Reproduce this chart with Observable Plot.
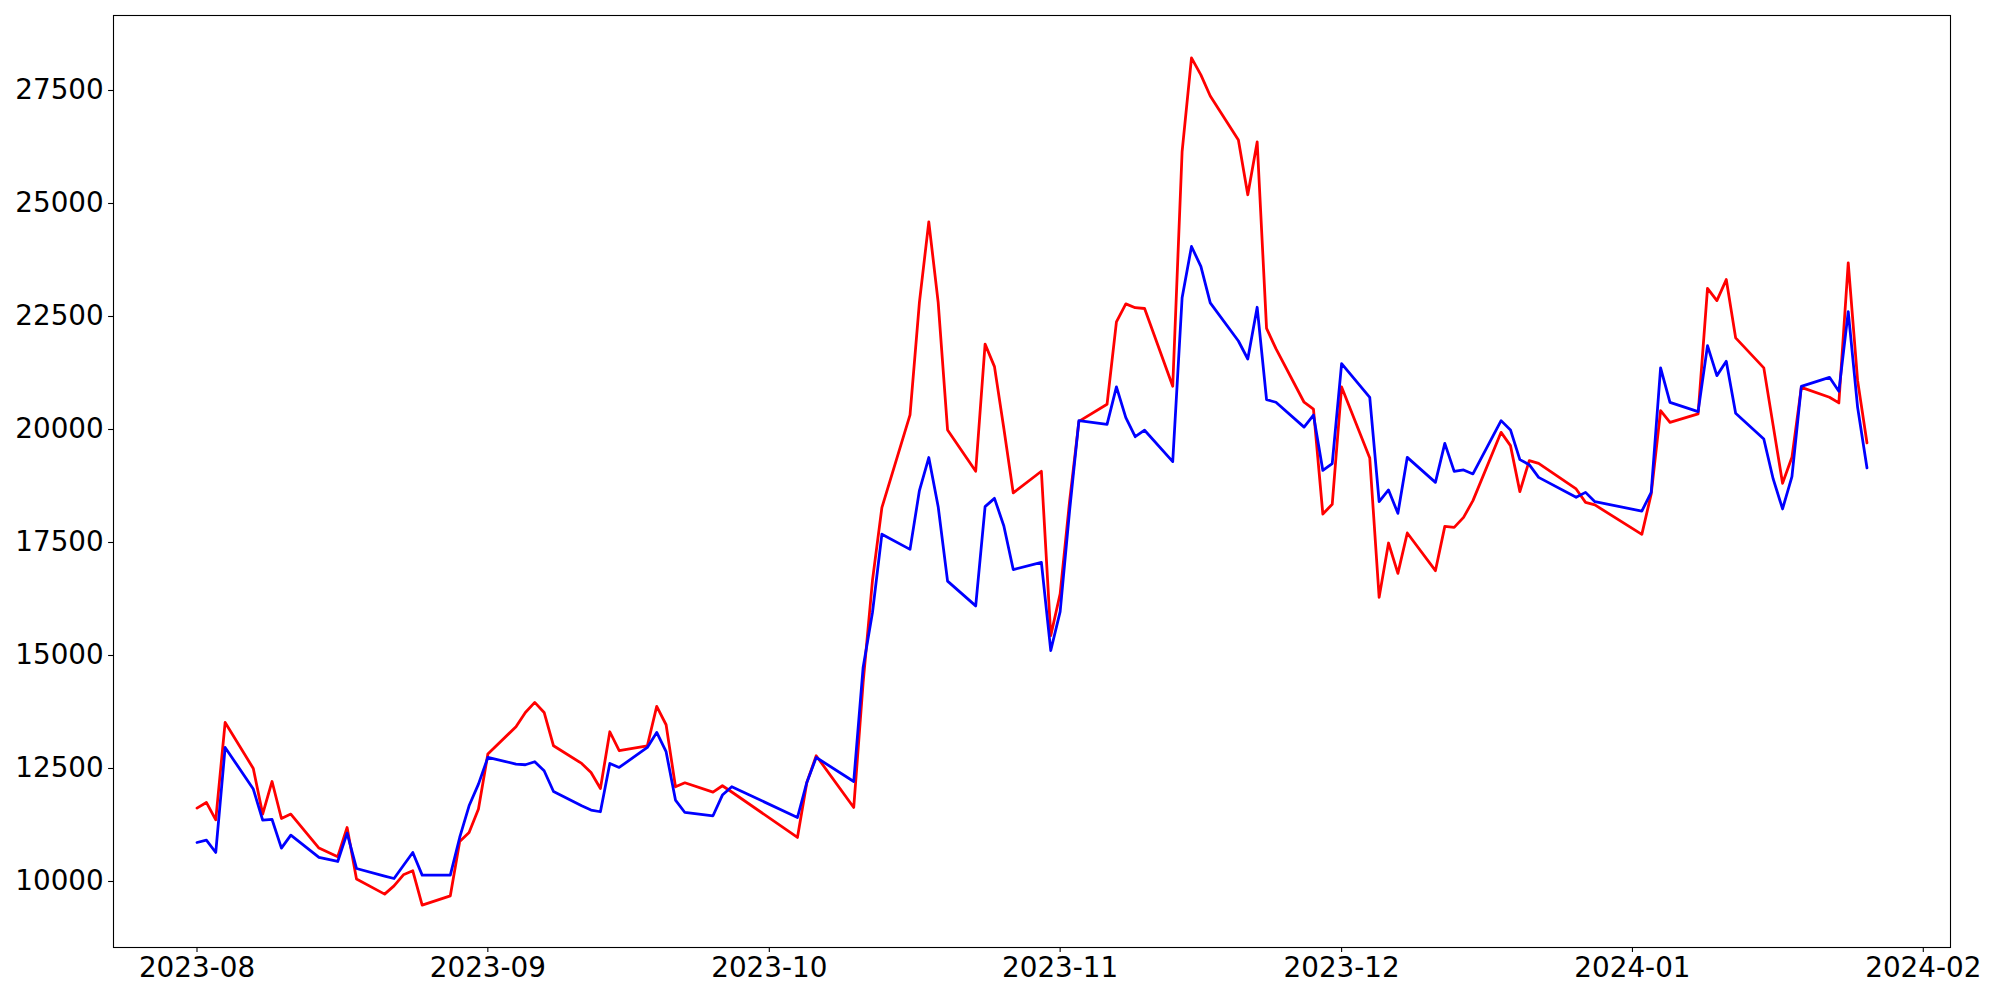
<!DOCTYPE html>
<html>
<head>
<meta charset="utf-8">
<script src="https://cdn.jsdelivr.net/npm/d3@7"></script>
<script src="https://cdn.jsdelivr.net/npm/@observablehq/plot@0.6"></script>
<style>
  html, body { margin: 0; padding: 0; background: #ffffff; }
  #chart svg { display: block; }
</style>
</head>
<body>
<div id="chart"></div>
<script>
// Trading dates (Aug 2023 – Jan 2024)
const dates = [
  "2023-08-01","2023-08-02","2023-08-03","2023-08-04","2023-08-07","2023-08-08","2023-08-09","2023-08-10","2023-08-11","2023-08-14","2023-08-16","2023-08-17","2023-08-18","2023-08-21","2023-08-22","2023-08-23","2023-08-24","2023-08-25","2023-08-28","2023-08-29","2023-08-30","2023-08-31",
  "2023-09-01","2023-09-04","2023-09-05","2023-09-06","2023-09-07","2023-09-08","2023-09-11","2023-09-12","2023-09-13","2023-09-14","2023-09-15","2023-09-18","2023-09-19","2023-09-20","2023-09-21","2023-09-22","2023-09-25","2023-09-26","2023-09-27",
  "2023-10-04","2023-10-05","2023-10-06","2023-10-10","2023-10-11","2023-10-12","2023-10-13","2023-10-16","2023-10-17","2023-10-18","2023-10-19","2023-10-20","2023-10-23","2023-10-24","2023-10-25","2023-10-26","2023-10-27","2023-10-30","2023-10-31",
  "2023-11-01","2023-11-02","2023-11-03","2023-11-06","2023-11-07","2023-11-08","2023-11-09","2023-11-10","2023-11-13","2023-11-14","2023-11-15","2023-11-16","2023-11-17","2023-11-20","2023-11-21","2023-11-22","2023-11-23","2023-11-24","2023-11-27","2023-11-28","2023-11-29","2023-11-30",
  "2023-12-01","2023-12-04","2023-12-05","2023-12-06","2023-12-07","2023-12-08","2023-12-11","2023-12-12","2023-12-13","2023-12-14","2023-12-15","2023-12-18","2023-12-19","2023-12-20","2023-12-21","2023-12-22","2023-12-26","2023-12-27","2023-12-28",
  "2024-01-02","2024-01-03","2024-01-04","2024-01-05","2024-01-08","2024-01-09","2024-01-10","2024-01-11","2024-01-12","2024-01-15","2024-01-16","2024-01-17","2024-01-18","2024-01-19","2024-01-22","2024-01-23","2024-01-24","2024-01-25","2024-01-26"
];

// Red series
const redValues = [
  11624, 11749, 11365, 13519, 12501, 11491, 12213, 11394, 11491, 10739, 10547, 11195, 10053, 9721, 9904, 10148, 10237, 9477, 9683, 10885, 11085, 11602,
  12819, 13424, 13740, 13962, 13740, 13003, 12612, 12412, 12058, 13313, 12893, 13003, 13873, 13468, 12096, 12184, 11978, 12118, 11980,
  10974, 12191, 12782, 11638, 14400, 16668, 18273, 20325, 22814, 24594, 22814, 19990, 19076, 21889, 21391, 20021, 18598, 19076, 15440,
  16365, 18400, 20180, 20559, 22380, 22779, 22695, 22677, 20957, 26150, 28222, 27845, 27378, 26404, 25194, 26362, 22237, 21788, 20603, 20450, 18130, 18345,
  20940, 19370, 16286, 17489, 16817, 17711, 16876, 17857, 17835, 18056, 18426, 19937, 19643, 18625, 19311, 19251, 18685, 18388, 18331,
  17680, 18574, 20418, 20159, 20344, 23124, 22852, 23317, 22027, 21363, 20086, 18809, 19384, 20933, 20712, 20588, 23686, 21081, 19703
];

// Blue series
const blueValues = [
  10863, 10916, 10642, 12966, 12045, 11358, 11372, 10739, 11026, 10532, 10443, 11070, 10288, 10120, 10066, 10354, 10642, 10141, 10141, 10974, 11675, 12155,
  12744, 12598, 12583, 12649, 12450, 11992, 11675, 11580, 11543, 12612, 12523, 12966, 13298, 12871, 11802, 11527, 11454, 11912, 12096,
  11416, 12191, 12744, 12213, 14736, 15956, 17684, 17348, 18649, 19380, 18293, 16646, 16097, 18293, 18477, 17866, 16901, 17060, 15110,
  15970, 18190, 20196, 20112, 20942, 20263, 19840, 19984, 19289, 22914, 24049, 23609, 22803, 21958, 21560, 22704, 20661, 20603, 20052, 20320, 19095, 19245,
  21455, 20712, 18404, 18662, 18145, 19384, 18831, 19694, 19074, 19105, 19017, 20196, 19990, 19333, 19222, 18941, 18499, 18609, 18404,
  18195, 18609, 21363, 20601, 20395, 21856, 21192, 21509, 20358, 19791, 18906, 18242, 18957, 20955, 21154, 20845, 22608, 20490, 19149
];

const yTicks = [10000, 12500, 15000, 17500, 20000, 22500, 25000, 27500];
const xTickLabels = ["2023-08", "2023-09", "2023-10", "2023-11", "2023-12", "2024-01", "2024-02"];

const parseDay = d3.utcParse("%Y-%m-%d");
const parseMonth = d3.utcParse("%Y-%m");
const rows = dates.map((d, i) => ({ date: parseDay(d), red: redValues[i], blue: blueValues[i] }));

// matplotlib-like 5% auto margins
const t0 = +rows[0].date, t1 = +rows[rows.length - 1].date;
const dt = (t1 - t0) * 0.05;
const allVals = redValues.concat(blueValues);
const vmin = d3.min(allVals), vmax = d3.max(allVals);
const dv = (vmax - vmin) * 0.05;

const fs = 27.8;
const chart = Plot.plot({
  width: 2000,
  height: 1000,
  marginLeft: 113,
  marginRight: 50,
  marginTop: 15,
  marginBottom: 53,
  style: { fontFamily: "DejaVu Sans", background: "#ffffff", color: "#000000", overflow: "visible" },
  x: { type: "utc", domain: [new Date(t0 - dt), new Date(t1 + dt)] },
  y: { domain: [vmin - dv, vmax + dv] },
  marks: [
    Plot.line(rows, { x: "date", y: "red", stroke: "#ff0000", strokeWidth: 2.78 }),
    Plot.line(rows, { x: "date", y: "blue", stroke: "#0000ff", strokeWidth: 2.78 }),
    Plot.frame({ stroke: "#000000", strokeWidth: 1.1 }),
    Plot.axisX({
      ticks: xTickLabels.map(s => parseMonth(s)),
      tickFormat: d3.utcFormat("%Y-%m"),
      tickSize: 4.9, tickPadding: 4.9, fontSize: fs, label: null, stroke: "#000000", strokeWidth: 1.1
    }),
    Plot.axisY({
      ticks: yTicks,
      tickFormat: d => String(d),
      tickSize: 4.9, tickPadding: 4.9, fontSize: fs, label: null, stroke: "#000000", strokeWidth: 1.1
    })
  ]
});
document.getElementById("chart").appendChild(chart);
</script>
</body>
</html>
